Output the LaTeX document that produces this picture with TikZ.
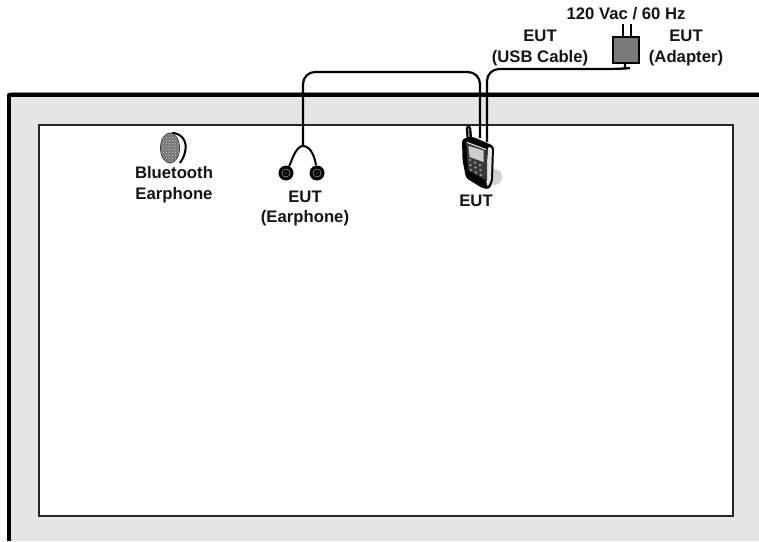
\documentclass[tikz,border=0pt]{standalone}
\usepackage{fontspec}
\setmainfont{Liberation Sans}
\usetikzlibrary{patterns,shapes.geometric}
\definecolor{band}{HTML}{E5E5E5}
\tikzset{
  lbl/.style={font=\bfseries\fontsize{16.7}{20.5}\selectfont,align=center,inner sep=0pt,text=black!92},
  wire/.style={draw=black,line width=2.2pt,rounded corners=12pt},
  thin wire/.style={draw=black,line width=2pt},
  bud/.style={circle,fill=black,minimum size=15pt,inner sep=0pt},
  plug/.style={draw=black,line width=2.2pt,fill=black!52,minimum width=26pt,minimum height=26pt,inner sep=0pt}
}
\begin{document}
\begin{tikzpicture}[x=1pt,y=-1pt]
\useasboundingbox (0,0) rectangle (759,541);
% room
\fill[band] (9,95) rectangle (759,541);
\draw[black!45,line width=0.8pt] (10,92.6) -- (759,92.6);
\draw[black,line width=4.4pt,line join=round] (9,541) -- (9,95) -- (759,95);
\node[draw=black!85,line width=1.3pt,fill=white,minimum width=694pt,minimum height=391pt,inner sep=0pt] (table) at (386,320.5) {};
% shadow of the phone
\fill[black!18] (494,177) circle (8);
% adapter
\node[plug] (adapter) at (626,50) {};
\coordinate (prongA) at (622.5,24);
\coordinate (prongB) at (631,24);
\draw[line width=2pt] (prongA) -- (prongA |- adapter.north);
\draw[line width=2pt] (prongB) -- (prongB |- adapter.north);
% phone anchor points
\coordinate (phoneA) at (480,138);
\coordinate (phoneB) at (487,142);
\coordinate (plugOut) at (625,68.5);
% earphone junction
\coordinate (split) at (303,146);
\node[bud] (budL) at (286,173) {};
\node[bud] (budR) at (317,173) {};
\foreach \b in {budL,budR}{
  \draw[white!65!black,line width=0.5pt] (\b) circle (4);
  \fill[black] (\b) circle (3);
  \fill[white!60!black] (\b) circle (0.7);
}
% connectors
\draw[wire] (split) -- (303,72) -- (480,72) -- (phoneA);
\draw[wire] (phoneB) -- (487,69) -- (618,69) [rounded corners=1pt] -- (plugOut) -- (adapter.south -| plugOut);
\draw[thin wire] (budL) .. controls (292,160) and (296,146) .. (split) .. controls (311,146) and (315,158) .. (budR);
% phone
\draw[black,line width=5.5pt,line cap=round] (468.5,128.5) -- (469.5,140);
\draw[black!50,line width=1.4pt,line cap=round] (468.5,128.5) -- (469,137);
\fill[black,rounded corners=3pt] (462,139) -- (472,136.5) -- (494,146) -- (493,180) -- (490,189) -- (483,188.5) -- (466,178) -- (462.5,160) -- cycle;
\fill[black!10,rounded corners=1.5pt] (488,146.5) -- (492,148) -- (491,180) -- (487.5,187) -- (486,180) -- cycle;
\fill[black!78] (466,141) -- (487,149) -- (487,181) -- (468,170) -- cycle;
\draw[white,line width=0.8pt] (467,142.5) -- (486,149.5);
\fill[black!20] (468.5,146) -- (483.5,150.5) -- (483.5,162) -- (469.5,157) -- cycle;
\foreach \x/\y in {470/160,475/162.5,480/165,470.5/165,475.5/167.5,480.5/170,471/170,476/172.5,481/175}{
  \fill[black!42] (\x,\y) circle (1.3);
}
% bluetooth earphone
\draw[black,line width=2pt] (172,133) .. controls (181,133) and (188,141) .. (185,152) .. controls (184,157) and (182,160) .. (180,163);
\node[draw=black!75,line width=0.8pt,ellipse,minimum width=19pt,minimum height=30pt,inner sep=0pt,fill=black!55] (bt) at (170,148) {};
\fill[pattern=crosshatch dots,pattern color=white!85!black] (170,148) ellipse (9 and 14.5);
% labels
\node[lbl] (power) at (626,14) {120 Vac / 60 Hz};
\node[lbl] (usb) at (540,48) {EUT\\(USB Cable)};
\node[lbl] (adapterlabel) at (686,48) {EUT\\(Adapter)};
\node[lbl] (phonelabel) at (476,201) {EUT};
\node[lbl] (earlabel) at (305,208.5) {EUT\\(Earphone)};
\node[lbl] (btlabel) at (174,184.5) {Bluetooth\\Earphone};
\end{tikzpicture}
\end{document}
